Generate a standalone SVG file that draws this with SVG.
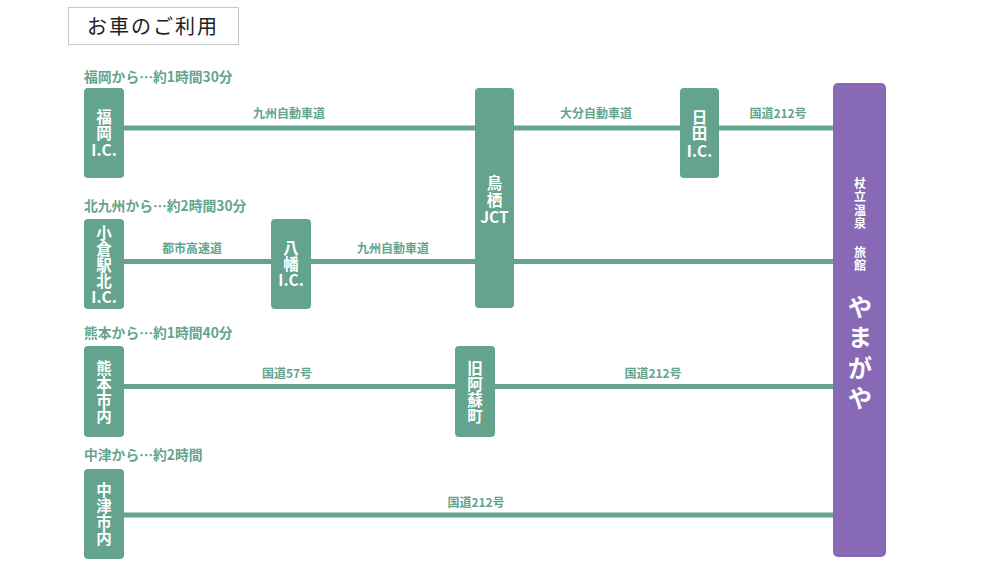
<svg xmlns="http://www.w3.org/2000/svg" width="1000" height="569" viewBox="0 0 1000 569">
<style>
.node{fill:#64a48e}
.dest{fill:#8769b6}
.line{stroke:#64a48e;stroke-width:5;fill:none}
.nt{font-family:"Noto Sans CJK JP","Open Sans",sans-serif;font-weight:bold;font-size:15.5px;fill:#fff;text-anchor:middle}
.lbl{font-family:"Noto Sans CJK JP",sans-serif;font-weight:bold;font-size:12px;fill:#64a48e;text-anchor:middle}
.sub{font-family:"Noto Sans CJK JP",sans-serif;font-weight:bold;font-size:13.8px;fill:#64a48e}
.dt{font-family:"Noto Sans CJK JP",sans-serif;font-weight:bold;fill:#fff;text-anchor:middle}
</style>
<rect width="1000" height="569" fill="#fff"/>
<g id="title">
<rect x="68.5" y="7.5" width="170" height="37" fill="#fff" stroke="#c8c8c8" stroke-width="1"/>
<text x="153" y="33.5" font-family="Noto Sans CJK JP, sans-serif" font-size="20" font-weight="normal" fill="#222" text-anchor="middle" letter-spacing="2">お車のご利用</text>
</g>
<g id="subtitles">
<text class="sub" x="84" y="82">福岡から…約1時間30分</text>
<text class="sub" x="84" y="211">北九州から…約2時間30分</text>
<text class="sub" x="84" y="338">熊本から…約1時間40分</text>
<text class="sub" x="84" y="460">中津から…約2時間</text>
</g>
<g id="connectors">
<line class="line" x1="124" y1="128" x2="834" y2="128"/>
<line class="line" x1="123" y1="261.5" x2="834" y2="261.5"/>
<line class="line" x1="123" y1="386.5" x2="834" y2="386.5"/>
<line class="line" x1="123" y1="515" x2="834" y2="515"/>
<text class="lbl" x="289" y="117.5">九州自動車道</text>
<text class="lbl" x="596" y="117.5">大分自動車道</text>
<text class="lbl" x="778" y="117.5">国道212号</text>
<text class="lbl" x="192" y="252.5">都市高速道</text>
<text class="lbl" x="393" y="252.5">九州自動車道</text>
<text class="lbl" x="287" y="377.5">国道57号</text>
<text class="lbl" x="653" y="377.5">国道212号</text>
<text class="lbl" x="476" y="506.5">国道212号</text>
</g>
<g id="fukuoka-ic">
<rect class="node" x="84" y="88" width="40" height="90" rx="4"/>
<text class="nt"><tspan x="104" y="123">福</tspan><tspan x="104" y="139">岡</tspan><tspan x="104" y="156">I.C.</tspan></text>
</g>
<g id="tosu-jct">
<rect class="node" x="475" y="88" width="39" height="220" rx="4"/>
<text class="nt"><tspan x="494.5" y="189">鳥</tspan><tspan x="494.5" y="206">栖</tspan><tspan x="494.5" y="223">JCT</tspan></text>
</g>
<g id="hita-ic">
<rect class="node" x="680" y="88" width="39" height="90" rx="4"/>
<text class="nt"><tspan x="699.5" y="123">日</tspan><tspan x="699.5" y="139">田</tspan><tspan x="699.5" y="157">I.C.</tspan></text>
</g>
<g id="kokura-ic">
<rect class="node" x="84" y="219" width="40" height="90" rx="4"/>
<text class="nt"><tspan x="104" y="239">小</tspan><tspan x="104" y="255">倉</tspan><tspan x="104" y="271">駅</tspan><tspan x="104" y="287">北</tspan><tspan x="104" y="303">I.C.</tspan></text>
</g>
<g id="yahata-ic">
<rect class="node" x="271" y="219" width="40" height="90" rx="4"/>
<text class="nt"><tspan x="291" y="254">八</tspan><tspan x="291" y="270">幡</tspan><tspan x="291" y="286">I.C.</tspan></text>
</g>
<g id="kumamoto">
<rect class="node" x="84" y="346" width="40" height="91" rx="4"/>
<text class="nt"><tspan x="104" y="374">熊</tspan><tspan x="104" y="390">本</tspan><tspan x="104" y="406">市</tspan><tspan x="104" y="422">内</tspan></text>
</g>
<g id="aso">
<rect class="node" x="455" y="346" width="40" height="91" rx="4"/>
<text class="nt"><tspan x="475" y="374">旧</tspan><tspan x="475" y="390">阿</tspan><tspan x="475" y="406">蘇</tspan><tspan x="475" y="422">町</tspan></text>
</g>
<g id="nakatsu">
<rect class="node" x="84" y="469" width="40" height="90" rx="4"/>
<text class="nt"><tspan x="104" y="496">中</tspan><tspan x="104" y="512">津</tspan><tspan x="104" y="528">市</tspan><tspan x="104" y="544">内</tspan></text>
</g>
<g id="yamagaya">
<rect class="dest" x="833" y="83" width="53" height="474" rx="5"/>
<text class="dt" font-size="12"><tspan x="860" y="188">杖</tspan><tspan x="860" y="201">立</tspan><tspan x="860" y="215">温</tspan><tspan x="860" y="228">泉</tspan><tspan x="860" y="257">旅</tspan><tspan x="860" y="270">館</tspan></text>
<text class="dt" font-size="24"><tspan x="860" y="316">や</tspan><tspan x="860" y="346">ま</tspan><tspan x="860" y="377">が</tspan><tspan x="860" y="407">や</tspan></text>
</g>
</svg>
